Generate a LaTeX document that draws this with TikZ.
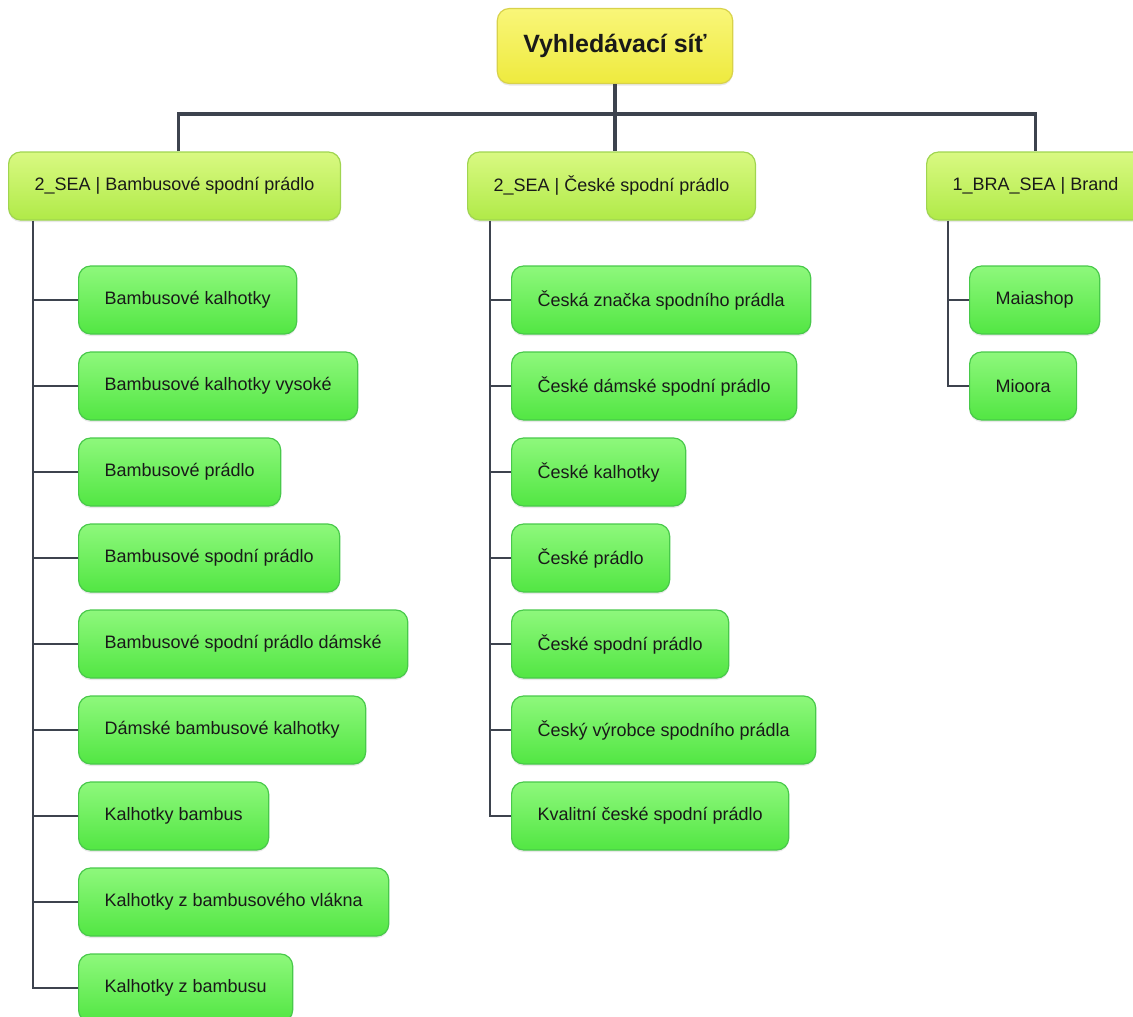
\documentclass[tikz,border=0pt]{standalone}
\usepackage{fontspec}
\setmainfont{Liberation Sans}
\usetikzlibrary{shadows}
\definecolor{linegray}{HTML}{3D434E}
\definecolor{rootTop}{HTML}{F9F679}
\definecolor{rootBot}{HTML}{EEEA3E}
\definecolor{rootLine}{HTML}{D8D24A}
\definecolor{campTop}{HTML}{D9F982}
\definecolor{campBot}{HTML}{B0EA48}
\definecolor{campLine}{HTML}{A0D550}
\definecolor{kwTop}{HTML}{8EF87C}
\definecolor{kwBot}{HTML}{52E643}
\definecolor{kwLine}{HTML}{48C94A}
\tikzset{
  box/.style={rounded corners=12pt, line width=1.2pt, text=black!90,
    font=\fontsize{18}{21}\selectfont, inner xsep=26pt, inner ysep=0pt,
    minimum height=68pt, anchor=west,
    drop shadow={opacity=0.18, shadow xshift=0pt, shadow yshift=-2pt}},
  rootbox/.style={box, anchor=center, draw=rootLine, top color=rootTop, bottom color=rootBot,
    font=\fontsize{25}{30}\selectfont\bfseries, minimum width=230pt, minimum height=75pt},
  campbox/.style={box, draw=campLine, top color=campTop, bottom color=campBot},
  kwbox/.style={box, draw=kwLine, top color=kwTop, bottom color=kwBot},
  bus/.style={draw=linegray, line width=3.6pt},
  branch/.style={draw=linegray, line width=2.8pt}
}
\begin{document}
\begin{tikzpicture}[x=1pt, y=-1pt]
  \useasboundingbox (0,0) rectangle (1133,1017);
  \draw
    (615,46) node[rootbox] (root){Vyhledávací síť}
    (8,186) node[campbox] (A){2\_SEA | Bambusové spodní prádlo}
    (467,186) node[campbox] (B){2\_SEA | České spodní prádlo}
    (926,186) node[campbox] (C){1\_BRA\_SEA | Brand}
    (78,300) node[kwbox] (a1){Bambusové kalhotky}
    (78,386) node[kwbox] (a2){Bambusové kalhotky vysoké}
    (78,472) node[kwbox] (a3){Bambusové prádlo}
    (78,558) node[kwbox] (a4){Bambusové spodní prádlo}
    (78,644) node[kwbox] (a5){Bambusové spodní prádlo dámské}
    (78,730) node[kwbox] (a6){Dámské bambusové kalhotky}
    (78,816) node[kwbox] (a7){Kalhotky bambus}
    (78,902) node[kwbox] (a8){Kalhotky z bambusového vlákna}
    (78,988) node[kwbox] (a9){Kalhotky z bambusu}
    (511,300) node[kwbox] (b1){Česká značka spodního prádla}
    (511,386) node[kwbox] (b2){České dámské spodní prádlo}
    (511,472) node[kwbox] (b3){České kalhotky}
    (511,558) node[kwbox] (b4){České prádlo}
    (511,644) node[kwbox] (b5){České spodní prádlo}
    (511,730) node[kwbox] (b6){Český výrobce spodního prádla}
    (511,816) node[kwbox] (b7){Kvalitní české spodní prádlo}
    (969,300) node[kwbox] (c1){Maiashop}
    (969,386) node[kwbox] (c2){Mioora};
  \coordinate (hub) at (615,114);
  \coordinate (ta) at ([xshift=25pt]A.south west);
  \coordinate (tb) at ([xshift=23pt]B.south west);
  \coordinate (tc) at ([xshift=22pt]C.south west);
  \begin{scope}
    \draw[bus] (root.south) -- (hub);
    \draw[bus] ([xshift=4pt]A.north) |- (hub) -| (C.north);
    \draw[bus] (hub) -- (hub |- B.north);
    \draw[branch] (ta) |- (a9.west);
    \draw[branch] (a1.west) -- (a1.west -| ta);
    \draw[branch] (a2.west) -- (a2.west -| ta);
    \draw[branch] (a3.west) -- (a3.west -| ta);
    \draw[branch] (a4.west) -- (a4.west -| ta);
    \draw[branch] (a5.west) -- (a5.west -| ta);
    \draw[branch] (a6.west) -- (a6.west -| ta);
    \draw[branch] (a7.west) -- (a7.west -| ta);
    \draw[branch] (a8.west) -- (a8.west -| ta);
    \draw[branch] (tb) |- (b7.west);
    \draw[branch] (b1.west) -- (b1.west -| tb);
    \draw[branch] (b2.west) -- (b2.west -| tb);
    \draw[branch] (b3.west) -- (b3.west -| tb);
    \draw[branch] (b4.west) -- (b4.west -| tb);
    \draw[branch] (b5.west) -- (b5.west -| tb);
    \draw[branch] (b6.west) -- (b6.west -| tb);
    \draw[branch] (tc) |- (c2.west);
    \draw[branch] (c1.west) -- (c1.west -| tc);
  \end{scope}
\end{tikzpicture}
\end{document}
